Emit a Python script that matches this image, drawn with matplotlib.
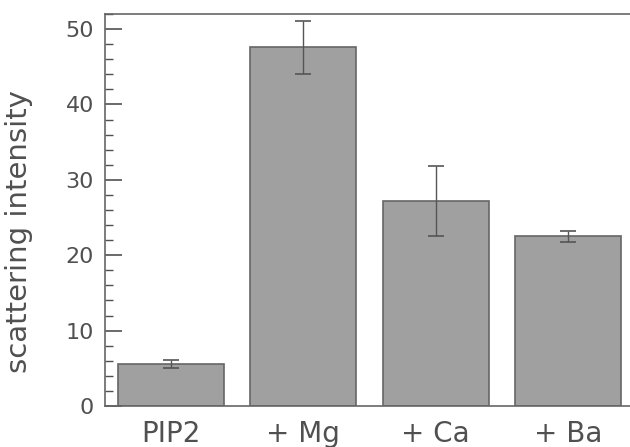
import numpy as np
import matplotlib
matplotlib.use("Agg")
import matplotlib.pyplot as plt
from matplotlib.ticker import MultipleLocator

# values
labels = ['PIP2', '+ Mg', '+ Ca', '+ Ba']
intensity = [5.6, 47.6, 27.2, 22.5]
errors = [0.5, 3.5, 4.7, 0.7]

ink = '#505050'
plt.rcParams['font.family'] = ['DejaVu Sans']

fig = plt.figure(figsize=(6.3, 4.47), dpi=100)
ax = fig.add_axes([0.1667, 0.0917, 0.8333, 0.877])

x = np.arange(len(labels))
ax.bar(x, intensity, width=0.8, color='#a0a0a0', edgecolor='#666666', linewidth=1.2)
ax.errorbar(x, intensity, yerr=errors, fmt='none', ecolor='#555555',
            elinewidth=1.0, capsize=6, capthick=1.2)

ax.set_xlim(-0.5, 3.47)
ax.set_ylim(0, 52)
ax.yaxis.set_major_locator(MultipleLocator(10))
ax.yaxis.set_minor_locator(MultipleLocator(2))
ax.tick_params(axis='y', which='major', direction='in', length=12, width=1.2,
               color=ink, labelcolor=ink, labelsize=16, pad=8)
ax.tick_params(axis='y', which='minor', direction='in', length=6, width=1.0, color=ink)
ax.tick_params(axis='x', length=0, labelcolor=ink, labelsize=20, pad=10)
ax.set_xticks(x)
ax.set_xticklabels(labels)

ax.set_ylabel('scattering intensity', color=ink, fontsize=21)
ax.yaxis.set_label_coords(-0.138, 0.444)

for s in ['left', 'bottom', 'top']:
    ax.spines[s].set_color('#666666')
    ax.spines[s].set_linewidth(1.2)
ax.spines['right'].set_visible(False)

fig.savefig('out.png', dpi=100)
